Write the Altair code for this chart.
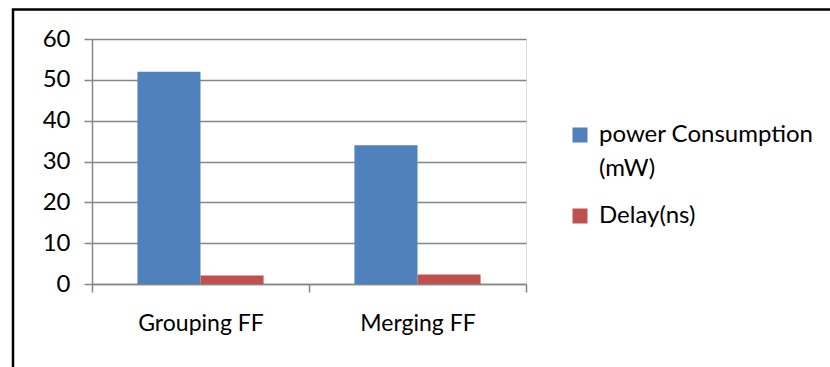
import altair as alt
import pandas as pd

categories = ["Grouping FF", "Merging FF"]
series = ["power Consumption (mW)", "Delay(ns)"]
power_values = [52, 34]
delay_values = [2.1, 2.3]
colors = ["#4F81BD", "#C0504D"]

rows = []
for i, c in enumerate(categories):
    rows.append({"cat": c, "series": series[0], "value": power_values[i]})
    rows.append({"cat": c, "series": series[1], "value": delay_values[i]})
df = pd.DataFrame(rows)

FONT = "Lato"

bars = alt.Chart(df).mark_bar().encode(
    x=alt.X("cat:N", sort=categories, title=None,
            scale=alt.Scale(paddingInner=0, paddingOuter=0),
            axis=alt.Axis(labelAngle=0, labelFontSize=23, labelFont=FONT, labelColor="#000000",
                          domainColor="#868686", domainWidth=1.5, tickColor="#868686",
                          tickWidth=1.5, tickSize=8, tickBand="extent", labelPadding=20,
                          grid=False)),
    xOffset=alt.XOffset("series:N", sort=series,
                        scale=alt.Scale(paddingInner=0, paddingOuter=0.72)),
    y=alt.Y("value:Q", title=None,
            scale=alt.Scale(domain=[0, 60], nice=False),
            axis=alt.Axis(values=[0, 10, 20, 30, 40, 50, 60], labelFontSize=24, labelFont=FONT,
                          labelColor="#000000", domain=True, domainColor="#868686", domainWidth=1.5,
                          tickColor="#868686", tickWidth=1.5, tickSize=8, labelPadding=14,
                          gridColor="#868686", gridWidth=1.5)),
    color=alt.Color("series:N", sort=series,
                    scale=alt.Scale(domain=series, range=colors),
                    legend=alt.Legend(title=None, orient="none", legendX=476, legendY=84,
                                      symbolType="square", symbolSize=225, symbolStrokeWidth=0,
                                      labelFontSize=24, labelFont=FONT, labelColor="#000000",
                                      labelLimit=400, rowPadding=23, labelOffset=7,
                                      labelExpr="datum.label == 'power Consumption (mW)' ? ['power Consump\u200ction', '(mW)'] : datum.label")),
)

frame = alt.Chart(alt.Data(values=[{"a": 1}])).mark_rect(
    fill=None, stroke="#000000", strokeWidth=2.5
).encode(x=alt.value(-79), x2=alt.value(760), y=alt.value(-29.5), y2=alt.value(345))

chart = alt.layer(bars, frame).properties(
    width=434, height=245,
    autosize=alt.AutoSizeParams(type="none"),
    padding={"left": 92, "top": 39, "right": 304, "bottom": 83},
).configure_view(stroke=None).configure(
    background="#FFFFFF",
    style={"guide-label": {"lineHeight": 34}},
)

chart.save("out.html", embed_options={"renderer": "svg", "actions": False})
